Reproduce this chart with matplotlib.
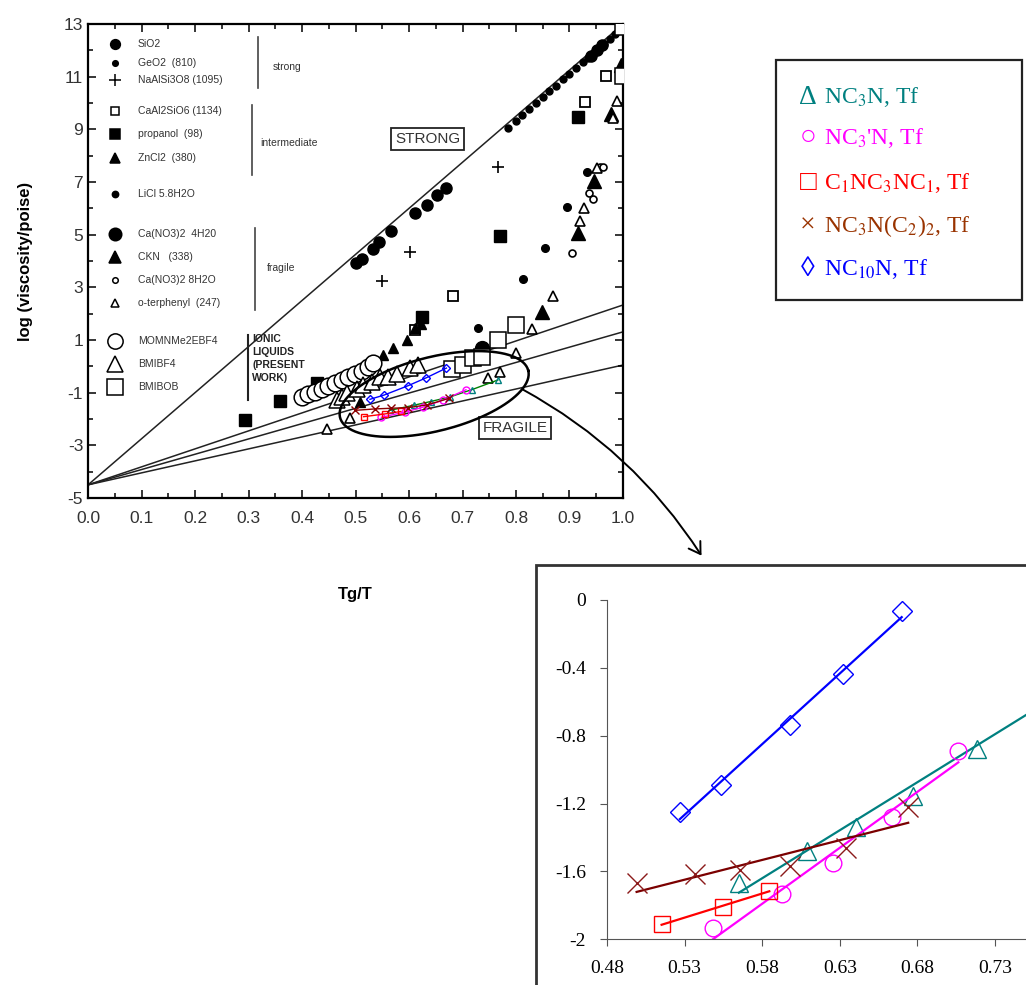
import numpy as np
import matplotlib.pyplot as plt
from matplotlib.patches import Rectangle, FancyArrowPatch
from matplotlib.ticker import MultipleLocator, FixedLocator

plt.rcParams['mathtext.fontset'] = 'stix'
plt.rcParams['axes.unicode_minus'] = False

# ---- literature data on the big Angell plot (Tg/T, log viscosity) ----
sio2_x = [0.501, 0.512, 0.533, 0.544, 0.566, 0.611, 0.634, 0.652, 0.669, 0.94, 0.951, 0.96]
sio2_y = [3.92, 4.07, 4.45, 4.72, 5.14, 5.82, 6.13, 6.51, 6.77, 11.8, 12.0, 12.2]
geo2_x = [0.785, 0.80, 0.812, 0.825, 0.838, 0.85, 0.862, 0.875, 0.888, 0.90,
          0.912, 0.925, 0.935, 0.945, 0.955, 0.965, 0.975, 0.985, 0.995]
geo2_y = [9.05, 9.32, 9.55, 9.78, 10.02, 10.22, 10.44, 10.66, 10.9, 11.1,
          11.32, 11.55, 11.72, 11.9, 12.08, 12.25, 12.44, 12.62, 12.84]
naal_x = [0.55, 0.602, 0.766]
naal_y = [3.24, 4.34, 7.57]
caal_x = [0.611, 0.682, 0.929, 0.968]
caal_y = [1.38, 2.67, 10.04, 11.02]
prop_x = [0.293, 0.359, 0.428, 0.624, 0.77, 0.916]
prop_y = [-2.04, -1.32, -0.64, 1.87, 4.95, 9.47]
zncl_x = [0.508, 0.551, 0.57, 0.596, 0.611, 0.622]
zncl_y = [-1.36, 0.43, 0.69, 0.99, 1.45, 1.6]
licl_x = [0.729, 0.813, 0.854, 0.895, 0.933]
licl_y = [1.45, 3.31, 4.49, 6.05, 7.38]
ca4_x = [0.72, 0.736]
ca4_y = [0.31, 0.69]
ckn_x = [0.849, 0.916, 0.946, 0.978, 0.996]
ckn_y = [2.06, 5.06, 7.04, 9.58, 11.44]
ca8_x = [0.905, 0.937, 0.944, 0.957, 0.963]
ca8_y = [4.30, 6.58, 6.35, 7.57, 7.57]
otp_x = [0.447, 0.49, 0.748, 0.77, 0.80, 0.83, 0.869, 0.92, 0.927, 0.951, 0.981, 0.989]
otp_y = [-2.38, -1.96, -0.45, -0.22, 0.5, 1.42, 2.67, 5.52, 6.01, 7.53, 9.43, 10.08]
mom_x = [0.40, 0.411, 0.424, 0.437, 0.449, 0.462, 0.475, 0.486, 0.499, 0.512, 0.523, 0.533]
mom_y = [-1.17, -1.05, -0.98, -0.86, -0.75, -0.63, -0.52, -0.41, -0.29, -0.18, -0.03, 0.12]
bf4_x = [0.465, 0.475, 0.484, 0.503, 0.514, 0.531, 0.546, 0.561, 0.578, 0.602, 0.617]
bf4_y = [-1.28, -1.17, -1.0, -0.86, -0.71, -0.6, -0.41, -0.41, -0.29, -0.06, 0.05]
bob_x = [0.68, 0.70, 0.72, 0.736, 0.766, 0.80, 1.0, 1.0]
bob_y = [-0.1, 0.05, 0.31, 0.35, 1.0, 1.57, 11.02, 12.9]

# reference lines: log eta at Tg/T = 0 and at Tg/T = 1
line_y0 = -4.5
line_y1 = [13.0, 2.33, 1.31, 0.05]

# ---- new Tf salts (zoomed panel) ----
nc3n_x = [0.565, 0.6087, 0.6404, 0.6774, 0.7182, 0.766]
nc3n_y = [-1.667, -1.478, -1.336, -1.156, -0.879, -0.52]
nc3pn_x = [0.5485, 0.5926, 0.6258, 0.6634, 0.7064]
nc3pn_y = [-1.936, -1.733, -1.553, -1.281, -0.889]
c1n_x = [0.5152, 0.5545, 0.5846]
c1n_y = [-1.912, -1.808, -1.714]
c2n_x = [0.4991, 0.5367, 0.5657, 0.5979, 0.634, 0.6741]
c2n_y = [-1.671, -1.616, -1.592, -1.568, -1.464, -1.219]
nc10_x = [0.527, 0.5533, 0.598, 0.6318, 0.6699]
nc10_y = [-1.252, -1.091, -0.737, -0.438, -0.065]

fig = plt.figure(figsize=(10.26, 9.85), dpi=100)

# ================= main chart =================
ax = fig.add_axes([0.0858, 0.4944, 0.5214, 0.4812])
ax.set_xlim(0, 1.0)
ax.set_ylim(-5, 13)

xx = np.array([0.0, 1.0])
for y1 in line_y1:
    ax.plot(xx, [line_y0, y1], color='#222222', lw=1.1, zorder=1)

k = dict(color='black', ls='none', zorder=3)
ax.plot(sio2_x, sio2_y, marker='o', ms=8, **k)
ax.plot(geo2_x, geo2_y, marker='o', ms=5, **k)
ax.plot(naal_x, naal_y, marker='+', ms=9, mew=1.2, **k)
ax.plot(caal_x, caal_y, marker='s', ms=7, mfc='white', mew=1.3, **k)
ax.plot(prop_x, prop_y, marker='s', ms=8, **k)
ax.plot(zncl_x, zncl_y, marker='^', ms=7, **k)
ax.plot(licl_x, licl_y, marker='o', ms=5.5, **k)
ax.plot(ca4_x, ca4_y, marker='o', ms=10, **k)
ax.plot(ckn_x, ckn_y, marker='^', ms=10, **k)
ax.plot(ca8_x, ca8_y, marker='o', ms=5, mfc='white', mew=1.2, **k)
ax.plot(otp_x, otp_y, marker='^', ms=6.5, mfc='white', mew=1.2, **k)
ax.plot(mom_x, mom_y, marker='o', ms=12, mfc='white', mew=1.1, **k)
ax.plot(bf4_x, bf4_y, marker='^', ms=12, mfc='white', mew=1.1, **k)
ax.plot(bob_x, bob_y, marker='s', ms=12, mfc='white', mew=1.1, **k)

# new data, small markers joined by lines
ax.plot(nc3n_x, nc3n_y, color='green', lw=1, marker='^', ms=5, mfc='none', mec='teal', zorder=4)
ax.plot(nc3pn_x, nc3pn_y, color='magenta', lw=1, marker='o', ms=5, mfc='none', zorder=4)
ax.plot(c1n_x, c1n_y, color='red', lw=1, marker='s', ms=5, mfc='none', zorder=4)
ax.plot(c2n_x, c2n_y, color='darkred', lw=1, marker='x', ms=6, zorder=4)
ax.plot(nc10_x, nc10_y, color='blue', lw=1, marker='D', ms=4, mfc='none', zorder=4)

# ellipse around the new data (drawn in pixel units, converted to data)
t = np.linspace(0, 2 * np.pi, 200)
ang = np.deg2rad(14)
ex = 97 * np.cos(t) * np.cos(ang) - 37 * np.sin(t) * np.sin(ang)
ey = 97 * np.cos(t) * np.sin(ang) + 37 * np.sin(t) * np.cos(ang)
ax.plot(0.647 + ex / 535, -1.05 + ey / 26.33, color='black', lw=1.8, zorder=5)

ax.xaxis.set_major_locator(MultipleLocator(0.1))
ax.xaxis.set_minor_locator(MultipleLocator(0.05))
ax.yaxis.set_major_locator(FixedLocator(np.arange(-5, 14, 2)))
ax.yaxis.set_minor_locator(MultipleLocator(1))
ax.xaxis.set_major_formatter(plt.FuncFormatter(lambda v, p: '%.1f' % v))
ax.tick_params(which='both', direction='in', top=True, right=True, labelsize=12.5,
               labelcolor='#333333', width=1.1)
ax.tick_params(which='major', length=6)
ax.tick_params(which='minor', length=3.5)
ax.tick_params(axis='x', pad=9)
for lab in ax.get_xticklabels() + ax.get_yticklabels():
    lab.set_family('Liberation Sans')
for s in ax.spines.values():
    s.set_linewidth(1.6)
ax.set_xlabel('Tg/T', fontsize=12, fontweight='bold', family='Liberation Sans', labelpad=44)
ax.set_ylabel('log (viscosity/poise)', fontsize=12, fontweight='bold',
              family='Liberation Sans', labelpad=22)

# in-plot legend
leg = [('SiO2', 'o', 7, 'black', 0.958),
       ('GeO2  (810)', 'o', 4, 'black', 0.918),
       ('NaAlSi3O8 (1095)', '+', 8, 'black', 0.882),
       ('CaAl2SiO6 (1134)', 's', 6, 'white', 0.816),
       ('propanol  (98)', 's', 7, 'black', 0.768),
       ('ZnCl2  (380)', '^', 7, 'black', 0.717),
       ('LiCl 5.8H2O', 'o', 4.5, 'black', 0.641),
       ('Ca(NO3)2  4H20', 'o', 9, 'black', 0.557),
       ('CKN   (338)', '^', 8, 'black', 0.508),
       ('Ca(NO3)2 8H2O', 'o', 4, 'white', 0.46),
       ('o-terphenyl  (247)', '^', 5.5, 'white', 0.411),
       ('MOMNMe2EBF4', 'o', 11, 'white', 0.331),
       ('BMIBF4', '^', 11, 'white', 0.283),
       ('BMIBOB', 's', 11, 'white', 0.234)]
for name, m, ms, fc, yy in leg:
    ax.plot([0.05], [yy], transform=ax.transAxes, marker=m, ms=ms, mfc=fc,
            mec='black', color='black', mew=1.1, ls='none', clip_on=False)
    ax.text(0.093, yy, name, transform=ax.transAxes, fontsize=7.5, va='center',
            family='Liberation Sans', color='#333333')

groups = [(0.318, 0.865, 0.973, 'strong', 0.346, 0.909),
          (0.307, 0.681, 0.829, 'intermediate', 0.321, 0.749),
          (0.312, 0.397, 0.57, 'fragile', 0.335, 0.485)]
for gx, g0, g1, name, tx, ty in groups:
    ax.plot([gx, gx], [g0, g1], transform=ax.transAxes, color='#444444', lw=1.2)
    ax.text(tx, ty, name, transform=ax.transAxes, fontsize=7.5, va='center',
            family='Liberation Sans', color='#333333')
ax.plot([0.299, 0.299], [0.207, 0.344], transform=ax.transAxes, color='#222222', lw=1.5)
ax.text(0.307, 0.345, 'IONIC\nLIQUIDS\n(PRESENT\nWORK)', transform=ax.transAxes,
        fontsize=7.5, va='top', fontweight='bold', family='Liberation Sans',
        color='#222222', linespacing=1.35)

box = dict(boxstyle='square,pad=0.25', fc='white', ec='#222222', lw=1.3)
ax.text(0.635, 8.63, 'STRONG', fontsize=11, ha='center', va='center',
        family='Liberation Sans', color='#333333', bbox=box)
ax.text(0.798, -2.34, 'FRAGILE', fontsize=11, ha='center', va='center',
        family='Liberation Sans', color='#333333', bbox=box)

# curved arrow down to the zoomed panel
fig.add_artist(FancyArrowPatch((0.5068, 0.6061), (0.6852, 0.4335),
                               transform=fig.transFigure,
                               connectionstyle='arc3,rad=-0.13',
                               arrowstyle='->,head_length=8,head_width=5',
                               color='black', lw=1.4))

# ================= legend box (right) =================
fig.add_artist(Rectangle((0.7563, 0.6954), 0.2398, 0.2437, transform=fig.transFigure,
                         fill=False, ec='#222222', lw=1.6))
labels = [('Δ', r'NC$_3$N, Tf', 'teal', 0.9015),
          ('○', r"NC$_3$'N, Tf", 'magenta', 0.8599),
          ('□', r'C$_1$NC$_3$NC$_1$, Tf', 'red', 0.8142),
          ('×', r'NC$_3$N(C$_2$)$_2$, Tf', '#993300', 0.7706),
          ('◊', r'NC$_{10}$N, Tf', 'blue', 0.7269)]
for sym, txt, col, yy in labels:
    fig.text(0.7875, yy, sym, color=col, fontsize=20, ha='center', va='center',
             family=['Liberation Serif', 'DejaVu Sans'])
    fig.text(0.803, yy, txt, color=col, fontsize=17, va='center',
             family='Liberation Serif')

# ================= zoomed panel =================
fig.add_artist(Rectangle((0.5224, -0.01), 0.49, 0.4364, transform=fig.transFigure,
                         fill=False, ec='#333333', lw=2))
ax2 = fig.add_axes([0.5916, 0.0464, 0.4084, 0.3445])
ax2.set_xlim(0.48, 0.75)
ax2.set_ylim(-2, 0)

series = [(nc3n_x, nc3n_y, 'teal', '^', 13),
          (nc3pn_x, nc3pn_y, 'magenta', 'o', 12),
          (c1n_x, c1n_y, 'red', 's', 12),
          (c2n_x, c2n_y, '#8B1A1A', 'x', 14),
          (nc10_x, nc10_y, 'blue', 'D', 10)]
for sx, sy, col, m, ms in series:
    sx = np.array(sx)
    p = np.polyfit(sx, sy, 1)
    fx = np.array([sx.min(), sx.max()])
    lc = '#7B0000' if m == 'x' else col
    ax2.plot(fx, np.polyval(p, fx), color=lc, lw=1.6)
    ax2.plot(sx, sy, ls='none', marker=m, ms=ms, mfc='none', mec=col, mew=1.0)

ax2.set_xticks([0.48, 0.53, 0.58, 0.63, 0.68, 0.73])
ax2.set_yticks([0, -0.4, -0.8, -1.2, -1.6, -2])
ax2.set_yticklabels(['0', '-0.4', '-0.8', '-1.2', '-1.6', '-2'])
ax2.spines['top'].set_visible(False)
ax2.spines['right'].set_visible(False)
for s in ax2.spines.values():
    s.set_color('#555555')
ax2.tick_params(direction='out', length=5, color='#555555', labelsize=14, pad=10)
for lab in ax2.get_xticklabels() + ax2.get_yticklabels():
    lab.set_family('Liberation Serif')

fig.savefig('out.png', dpi=100)
